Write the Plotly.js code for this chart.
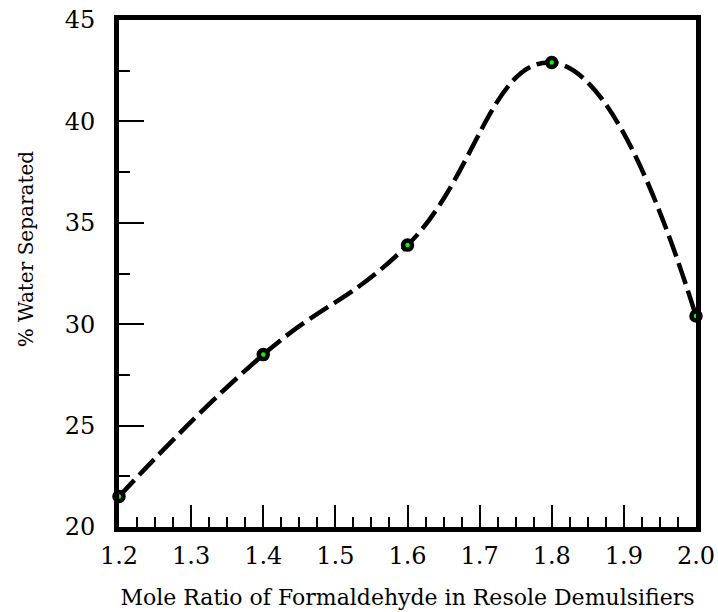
<!DOCTYPE html>
<html>
<head>
<meta charset="utf-8">
<script src="https://cdn.plot.ly/plotly-3.0.1.min.js"></script>
<style>html,body{margin:0;padding:0;background:#fff;}#chart{width:718px;height:612px;}</style>
</head>
<body>
<div id="chart"></div>
<script>
const moleRatio = [1.2, 1.4, 1.6, 1.8, 2.0];
const waterSeparated = [21.5, 28.5, 33.9, 42.9, 30.4];
const xTickVals = [1.2, 1.3, 1.4, 1.5, 1.6, 1.7, 1.8, 1.9, 2.0];
const xTickText = ['1.2', '1.3', '1.4', '1.5', '1.6', '1.7', '1.8', '1.9', '2.0'];
const yTickVals = [20, 25, 30, 35, 40, 45];
const xTitle = 'Mole Ratio of Formaldehyde in Resole Demulsifiers';
const yTitle = '% Water Separated';

const font = '"DejaVu Serif", "Liberation Serif", serif';

const traces = [
  {
    x: moleRatio, y: waterSeparated, type: 'scatter', mode: 'lines',
    line: {color: '#000', width: 4.5, dash: '22px,7px', shape: 'spline', smoothing: 1.3},
    hoverinfo: 'skip', cliponaxis: false
  },
  {
    x: moleRatio, y: waterSeparated, type: 'scatter', mode: 'markers',
    marker: {symbol: 'circle', size: 9, color: '#00ff00', line: {color: '#000', width: 4.5}},
    cliponaxis: false
  }
];

const layout = {
  width: 718, height: 612,
  margin: {l: 119, r: 22, t: 20, b: 85},
  paper_bgcolor: '#fff', plot_bgcolor: '#fff',
  showlegend: false,
  font: {family: font, color: '#000'},
  xaxis: {
    range: [1.2, 2.0], showgrid: false, zeroline: false,
    showline: true, linecolor: '#000', linewidth: 5, mirror: true,
    ticks: 'inside', ticklen: 22, tickwidth: 2, tickcolor: '#000',
    tickvals: xTickVals, ticktext: xTickText,
    tickfont: {family: font, size: 24, color: '#000'},
    ticklabelstandoff: 3,
    minor: {ticks: 'inside', dtick: 0.025, tick0: 1.2, ticklen: 10, tickwidth: 2, tickcolor: '#000', showgrid: false},
    title: {text: xTitle, font: {family: font, size: 22, color: '#000'}, standoff: 22}
  },
  yaxis: {
    range: [20, 45], showgrid: false, zeroline: false,
    showline: true, linecolor: '#000', linewidth: 5, mirror: true,
    ticks: 'inside', ticklen: 25, tickwidth: 2, tickcolor: '#000',
    tickvals: yTickVals,
    tickfont: {family: font, size: 24, color: '#000'},
    ticklabelstandoff: 14,
    minor: {ticks: 'inside', dtick: 2.5, tick0: 20, ticklen: 11, tickwidth: 2, tickcolor: '#000', showgrid: false}
  },
  annotations: [
    {
      text: yTitle, textangle: -90, showarrow: false,
      xref: 'paper', yref: 'paper', x: -0.161, y: 0.548,
      xanchor: 'center', yanchor: 'middle',
      font: {family: font, size: 20, color: '#000'}
    }
  ]
};

Plotly.newPlot('chart', traces, layout, {displayModeBar: false, staticPlot: true});
</script>
</body>
</html>
